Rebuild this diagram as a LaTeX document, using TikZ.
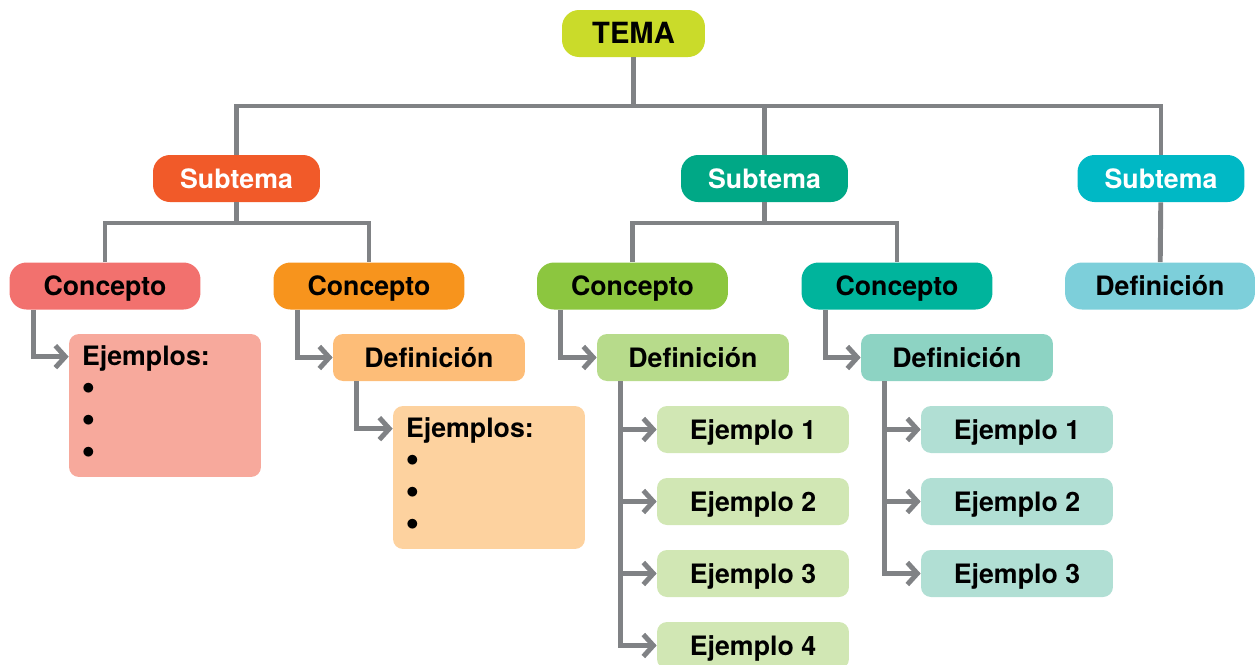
\documentclass[tikz,border=0pt]{standalone}
\usepackage{fontspec}
\setmainfont{TeX Gyre Heros}
\usepackage{tikz}
\usetikzlibrary{arrows.meta}

\definecolor{linegray}{HTML}{808285}
\definecolor{temacol}{HTML}{CADB2A}
\definecolor{subA}{HTML}{F15A29}
\definecolor{subB}{HTML}{00A886}
\definecolor{subC}{HTML}{00B8C5}
\definecolor{conA}{HTML}{F2716E}
\definecolor{conB}{HTML}{F7941D}
\definecolor{conC}{HTML}{8CC63F}
\definecolor{conD}{HTML}{00B49C}
\definecolor{defA}{HTML}{FDBD78}
\definecolor{defB}{HTML}{B7DB8B}
\definecolor{defC}{HTML}{8DD3C3}
\definecolor{defD}{HTML}{7DCFDA}
\definecolor{ejA}{HTML}{F7A99C}
\definecolor{ejB}{HTML}{FDD29F}
\definecolor{ejC}{HTML}{D1E7B4}
\definecolor{ejD}{HTML}{B1DFD4}

\newcommand\bul{\raisebox{0.1em}{$\bullet$}}

\begin{document}
\begin{tikzpicture}[
  x=0.02cm, y=-0.02cm,
  box/.style={rounded corners=0.2cm, minimum width=3.84cm, minimum height=0.94cm,
    inner sep=0pt, font=\bfseries\fontsize{15.2}{18}\selectfont,
    text height=13pt, text depth=2.1pt},
  pill/.style={box, rounded corners=0.34cm},
  list/.style={anchor=north west, inner sep=0pt, align=left,
    font=\bfseries\fontsize{15.2}{18.1}\selectfont},
  tree/.style={draw=linegray, line width=2.8pt},
  link/.style={tree, -{Straight Barb[length=0.2cm, width=0.44cm]}},
]

\useasboundingbox (0,0) rectangle (1255,664);

\node[pill, fill=temacol, minimum width=2.86cm, font=\bfseries\fontsize{16.6}{20}\selectfont] (tema) at (633.5,33.5) {TEMA};

\node[pill, fill=subA, minimum width=3.34cm, text=white] (sub1) at (236.5,178.5) {Subtema};
\node[pill, fill=subB, minimum width=3.34cm, text=white] (sub2) at (764.5,178.5) {Subtema};
\node[pill, fill=subC, minimum width=3.34cm, text=white] (sub3) at (1161,178.5) {Subtema};

\node[pill, fill=conA, minimum width=3.82cm] (con1) at (105,286) {Concepto};
\node[pill, fill=conB, minimum width=3.82cm] (con2) at (369,286) {Concepto};
\node[pill, fill=conC, minimum width=3.82cm] (con3) at (632.5,286) {Concepto};
\node[pill, fill=conD, minimum width=3.82cm] (con4) at (897,286) {Concepto};
\node[pill, fill=defD, minimum width=3.8cm] (def5) at (1160,286) {Definición};

\node[box, fill=defA] (def2) at (429,357.5) {Definición};
\node[box, fill=defB] (def3) at (693,357.5) {Definición};
\node[box, fill=defC] (def4) at (957,357.5) {Definición};

\node[box, fill=ejA, minimum height=2.86cm] (ej1) at (165,405.5) {};
\node[list] (ej1t) at ([xshift=0.26cm, yshift=-0.23cm]ej1.north west) {Ejemplos:\\\bul\\\bul\\\bul};
\node[box, fill=ejB, minimum height=2.86cm] (ej2) at (489,477.5) {};
\node[list] (ej2t) at ([xshift=0.26cm, yshift=-0.23cm]ej2.north west) {Ejemplos:\\\bul\\\bul\\\bul};

\foreach \i in {1,...,4}
  \node[box, fill=ejC] (g\i) at (753,{357.5+72*\i}) {Ejemplo \i};
\foreach \i in {1,...,3}
  \node[box, fill=ejD] (t\i) at (1017,{357.5+72*\i}) {Ejemplo \i};

\coordinate (top) at (633.5,106);
\coordinate (s1) at (236.5,223);
\coordinate (s2) at (764.5,223);

\draw[tree] (tema) -- (top);
\draw[tree] (sub1) |- (top) -| (sub3);
\draw[tree] (sub2) -- (sub2 |- top);
\draw[tree] (sub1) -- (s1);
\draw[tree] (con1) |- (s1) -| (con2);
\draw[tree] (sub2) -- (s2);
\draw[tree] (con3) |- (s2) -| (con4);
\draw[tree] (sub3) -- (def5);

\draw[link] ([xshift=0.48cm]con1.south west) |- ([yshift=-0.46cm]ej1.north west);
\draw[link] ([xshift=0.48cm]con2.south west) |- (def2);
\draw[link] ([xshift=0.48cm]def2.south west) |- ([yshift=-0.46cm]ej2.north west);
\draw[link] ([xshift=0.48cm]con3.south west) |- (def3);
\draw[link] ([xshift=0.48cm]con4.south west) |- (def4);

\coordinate (trunkB) at ([xshift=0.48cm]def3.south west);
\coordinate (trunkC) at ([xshift=0.48cm]def4.south west);
\draw[link] (trunkB) |- (g4);
\foreach \i in {1,...,3}
  \draw[link] (g\i -| trunkB) -- (g\i);
\draw[link] (trunkC) |- (t3);
\foreach \i in {1,2}
  \draw[link] (t\i -| trunkC) -- (t\i);
\end{tikzpicture}
\end{document}
